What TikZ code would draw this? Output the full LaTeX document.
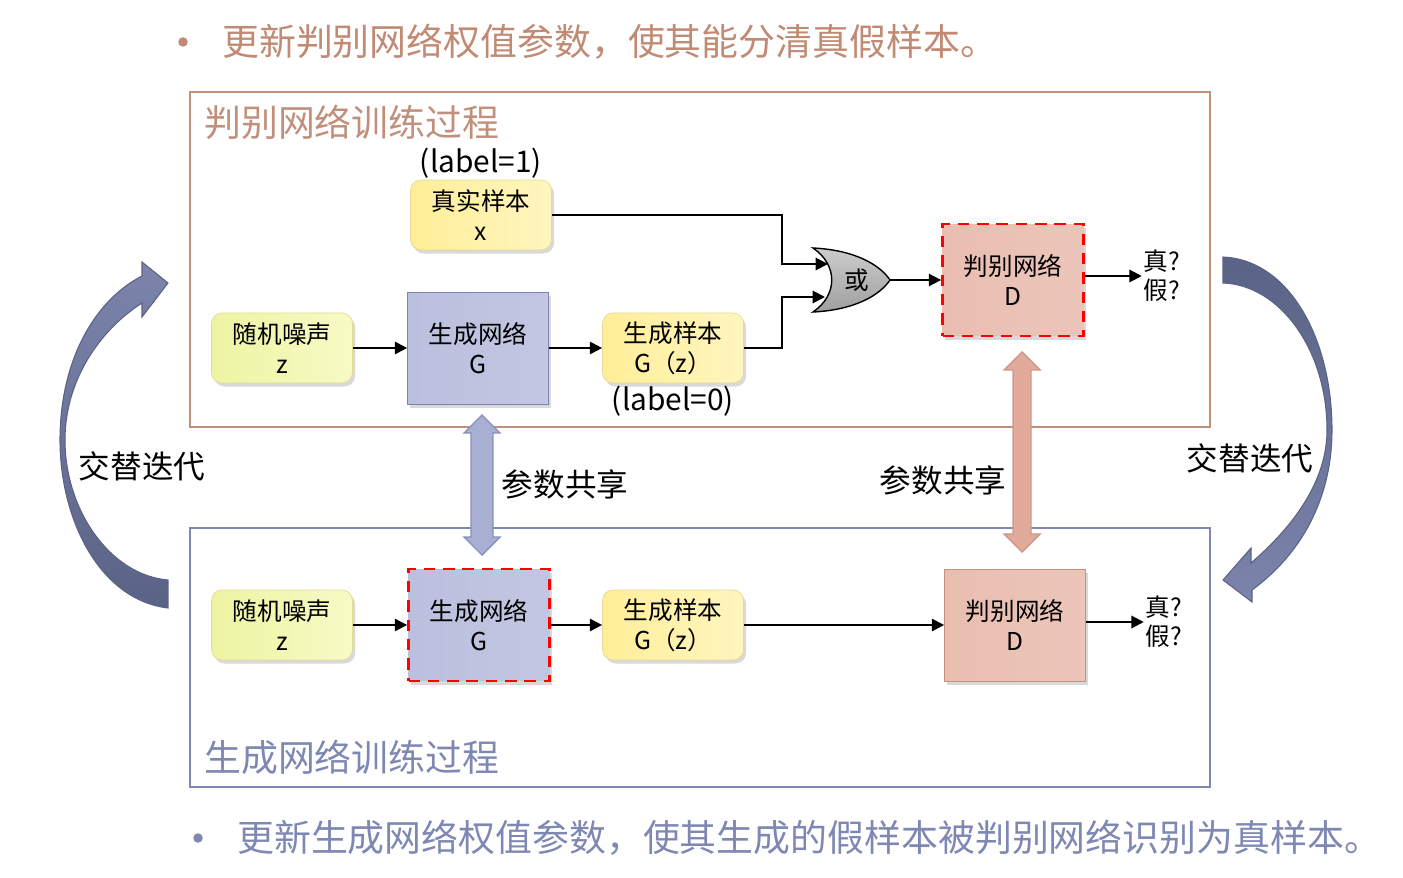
\documentclass[tikz,border=0pt]{standalone}
\usepackage{fontspec}
\setmainfont{Noto Sans CJK SC}
\usetikzlibrary{positioning,arrows.meta,calc,shadows}

\definecolor{tipBrown}{HTML}{C08A74}
\definecolor{dBrown}{HTML}{C0907C}
\definecolor{gBlue}{HTML}{7E88B2}
\definecolor{ylwLine}{HTML}{E6DA8E}
\definecolor{noiseA}{HTML}{EDF4A2}
\definecolor{noiseB}{HTML}{F8FAC6}
\definecolor{sampA}{HTML}{FFEE98}
\definecolor{sampB}{HTML}{FFF6C0}
\definecolor{netLine}{HTML}{7A86AE}
\definecolor{netA}{HTML}{BAC0DE}
\definecolor{netB}{HTML}{A4ABD1}
\definecolor{netC}{HTML}{C2C6E2}
\definecolor{disLine}{HTML}{C4917F}
\definecolor{disA}{HTML}{E9BEB0}
\definecolor{disB}{HTML}{E0A594}
\definecolor{disC}{HTML}{ECC5BA}
\definecolor{shareBlue}{HTML}{A8AFD3}
\definecolor{shareBlueLine}{HTML}{8890BA}
\definecolor{sharePink}{HTML}{E2AA9A}
\definecolor{sharePinkLine}{HTML}{CC9888}
\definecolor{loopDark}{HTML}{5A6385}
\definecolor{loopLight}{HTML}{7C84AC}

\begin{document}
\begin{tikzpicture}[x=0.02cm, y=-0.02cm, >={Triangle[length=7pt,width=7pt]},
      box/.style={minimum width=2.82cm, align=center, font=\fontsize{14}{17}\selectfont,
        drop shadow={opacity=0.3, shadow xshift=1.5pt, shadow yshift=-2pt}},
      noise/.style={box, draw=ylwLine, rounded corners=6pt, minimum height=1.4cm,
        left color=noiseA, right color=noiseB},
      sample/.style={box, draw=ylwLine, rounded corners=6pt, minimum height=1.4cm,
        left color=sampA, right color=sampB},
      gen/.style={box, draw=netLine, minimum height=2.24cm,
        left color=netA, middle color=netB, right color=netC},
      dis/.style={box, draw=disLine, minimum height=2.24cm,
        left color=disA, middle color=disB, right color=disC},
      active/.style={draw=red, line width=1.6pt, dash pattern=on 6.5pt off 4.5pt},
      lab/.style={font=\fontsize{17}{20}\selectfont},
      note/.style={font=\fontsize{18}{22}\selectfont},
      head/.style={font=\fontsize{21}{25}\selectfont, anchor=west},
      dot/.style={circle, inner sep=0pt, minimum size=0.19cm},
      judge/.style={font=\fontsize{14}{16.5}\selectfont, align=left, inner sep=1pt},
      link/.style={->, line width=1.1pt}]
  \useasboundingbox (0,0) rectangle (1403,878);

  % bullet lines
  \node[dot, fill=tipBrown] (bulD) at (183,42) {};
  \node[head, text=tipBrown] (tipD) at (216,42) {更新判别网络权值参数，使其能分清真假样本。};
  \node[dot, fill=gBlue] (bulG) at (198,838) {};
  \node[head, text=gBlue] (tipG) at (231,838) {更新生成网络权值参数，使其生成的假样本被判别网络识别为真样本。};

  % frames
  \draw[dBrown, line width=1.6pt] (190,92) rectangle (1210,427);
  \draw[gBlue, line width=1.6pt] (190,528) rectangle (1210,787);
  \node[head, text=dBrown] (titleD) at (198,122) {判别网络训练过程};
  \node[head, text=gBlue] (titleG) at (198,757) {生成网络训练过程};

  % discriminator training
  \node[sample] (real) at (481,215) {真实样本\\x};
  \node[lab] (lab1) at (481,163) {(label=1)};
  \node[noise] (noise1) at (282,348) {随机噪声\\z};
  \node[gen] (gen1) at (478,348) {生成网络\\G};
  \node[sample] (fake1) at (673,348) {生成样本\\G（z）};
  \node[lab] (lab0) at (673,401) {(label=0)};
  \shade[draw=black, line width=0.8pt, top color=gray!40, bottom color=gray!75]
    (813,248) .. controls (855,250) and (880,265) .. (890,280)
    .. controls (880,295) and (855,310) .. (813,312)
    .. controls (838,295) and (838,265) .. (813,248) -- cycle;
  \node[font=\fontsize{14}{17}\selectfont] (orgate) at (857,280) {或};
  \coordinate (in1) at (828,264);
  \coordinate (in2) at (825,297);
  \coordinate (out) at (890,280);
  \node[dis, active] (dis1) at (1013,280) {判别网络\\D};
  \node[judge] (judge1) at (1162,276) {真?\\假?};

  \draw[link] (noise1) -- (gen1);
  \draw[link] (gen1) -- (fake1);
  \draw[link] (real.east) -- ++(230,0) |- (in1);
  \draw[link] (fake1.east) -- ++(38,0) |- (in2);
  \draw[link] (out) -- (dis1);
  \draw[link] (dis1.east |- judge1) -- (judge1);

  % generator training
  \node[noise] (noise2) at (282,625) {随机噪声\\z};
  \node[gen, active] (gen2) at (479,625) {生成网络\\G};
  \node[sample] (fake2) at (673,625) {生成样本\\G（z）};
  \node[dis] (dis2) at (1015,625) {判别网络\\D};
  \node[judge] (judge2) at (1164,622) {真?\\假?};

  \draw[link] (noise2) -- (gen2);
  \draw[link] (gen2) -- (fake2);
  \draw[link] (fake2) -- (dis2);
  \draw[link] (dis2.east |- judge2) -- (judge2);

  % shared parameters
  \filldraw[fill=shareBlue, draw=shareBlueLine, line width=0.8pt]
    (482,415) -- (500,433) -- (493,433) -- (493,537) -- (500,537) -- (482,555)
    -- (464,537) -- (471,537) -- (471,433) -- (464,433) -- cycle;
  \filldraw[fill=sharePink, draw=sharePinkLine, line width=0.8pt]
    (1022,352) -- (1040,370) -- (1031,370) -- (1031,534) -- (1040,534) -- (1022,552)
    -- (1004,534) -- (1013,534) -- (1013,370) -- (1004,370) -- cycle;
  \node[note] (shareG) at (565,484) {参数共享};
  \node[note] (shareD) at (943,480) {参数共享};

  % alternating loop
  \shade[draw=loopDark, line width=0.6pt, top color=loopLight, bottom color=loopDark]
    (168,608) .. controls (100,600) and (60,520) .. (60,440)
    .. controls (60,360) and (95,300) .. (142,276)
    -- (142,262) -- (168,283) -- (142,317) -- (142,303)
    .. controls (100,330) and (65,380) .. (65,440)
    .. controls (65,510) and (110,575) .. (168,580) -- cycle;
  \shade[draw=loopDark, line width=0.6pt, top color=loopDark, bottom color=loopLight]
    (1223,257) .. controls (1290,260) and (1332,340) .. (1332,430)
    .. controls (1332,500) and (1300,555) .. (1252,590)
    -- (1252,602) -- (1223,580) -- (1251,548) -- (1251,563)
    .. controls (1295,525) and (1327,480) .. (1327,430)
    .. controls (1327,350) and (1280,285) .. (1223,283) -- cycle;
  \node[note] (loopL) at (142,466) {交替迭代};
  \node[note] (loopR) at (1250,458) {交替迭代};
\end{tikzpicture}
\end{document}
